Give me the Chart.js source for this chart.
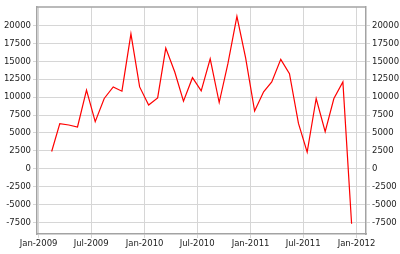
<!DOCTYPE html>
<html>
<head>
<meta charset="utf-8">
<script src="https://cdn.jsdelivr.net/npm/chart.js@4/dist/chart.umd.min.js"></script>
<style>
  body { margin: 0; background: #fff; }
</style>
</head>
<body>
<canvas id="chart" width="400" height="254"></canvas>
<script>
const months = [
  '2009-02','2009-03','2009-04','2009-05','2009-06','2009-07','2009-08','2009-09','2009-10','2009-11','2009-12',
  '2010-01','2010-02','2010-03','2010-04','2010-05','2010-06','2010-07','2010-08','2010-09','2010-10','2010-11','2010-12',
  '2011-01','2011-02','2011-03','2011-04','2011-05','2011-06','2011-07','2011-08','2011-09','2011-10','2011-11','2011-12'
];
const values = [
  2400, 6290, 6110, 5830, 10970, 6570, 9810, 11430, 10830, 18840, 11430,
  8890, 9900, 16850, 13510, 9440, 12720, 10870, 15360, 9250, 14670, 21290, 15500,
  8060, 10740, 12130, 15280, 13280, 6330, 2310, 9810, 5180, 9810, 12130, -7690
];
const xTickLabels = ['Jan-2009','Jul-2009','Jan-2010','Jul-2010','Jan-2011','Jul-2011','Jan-2012'];
const xTickDates = ['2009-01-01','2009-07-01','2010-01-01','2010-07-01','2011-01-01','2011-07-01','2012-01-01'];
const yTicks = [-7500, -5000, -2500, 0, 2500, 5000, 7500, 10000, 12500, 15000, 17500, 20000];

// days since 1 Jan 2009
const start = Date.UTC(2009, 0, 1);
function dayOf(str) {
  const p = str.split('-').map(Number);
  return (Date.UTC(p[0], p[1] - 1, p[2] || 15) - start) / 86400000;
}

const points = months.map((m, i) => ({ x: dayOf(m), y: values[i] }));
const xTickDays = xTickDates.map(dayOf);

const font = { family: 'DejaVu Sans', size: 8.5 };
const gridColor = '#d6d6d6';
const axisColor = '#a3a3a3';

const topBorder = {
  id: 'topBorder',
  afterDraw(chart) {
    const { ctx, chartArea } = chart;
    ctx.save();
    ctx.strokeStyle = axisColor;
    ctx.lineWidth = 1.5;
    ctx.beginPath();
    ctx.moveTo(chartArea.left, chartArea.top);
    ctx.lineTo(chartArea.right, chartArea.top);
    ctx.stroke();
    ctx.restore();
  }
};

function yAxis(pos, width, onArea) {
  return {
    type: 'linear',
    position: pos,
    min: -9120,
    max: 22580,
    afterBuildTicks: (s) => { s.ticks = yTicks.map(v => ({ value: v })); },
    afterFit: (s) => { s.width = width; },
    ticks: { font: font, color: '#222', padding: 2, callback: (v) => String(v) },
    grid: { color: gridColor, tickLength: 4, drawOnChartArea: onArea },
    border: { color: axisColor, width: 1.5 }
  };
}

new Chart(document.querySelector('#chart'), {
  type: 'line',
  data: {
    datasets: [{
      data: points,
      borderColor: '#ff0000',
      borderWidth: 1.2,
      pointRadius: 0,
      tension: 0,
      fill: false
    }]
  },
  options: {
    responsive: false,
    animation: false,
    layout: { padding: { top: 4.5 } },
    plugins: { legend: { display: false }, tooltip: { enabled: false } },
    scales: {
      x: {
        type: 'linear',
        min: -5.5,
        max: 1127.6,
        afterBuildTicks: (s) => { s.ticks = xTickDays.map(v => ({ value: v })); },
        afterFit: (s) => { s.height = 20; },
        ticks: {
          font: font,
          color: '#222',
          padding: 1,
          maxRotation: 0,
          autoSkip: false,
          callback: (v, i) => xTickLabels[i]
        },
        grid: { color: gridColor, tickLength: 4 },
        border: { color: axisColor, width: 1.5 }
      },
      y: yAxis('left', 37, true),
      y2: yAxis('right', 34, false)
    }
  },
  plugins: [topBorder]
});
</script>
</body>
</html>
